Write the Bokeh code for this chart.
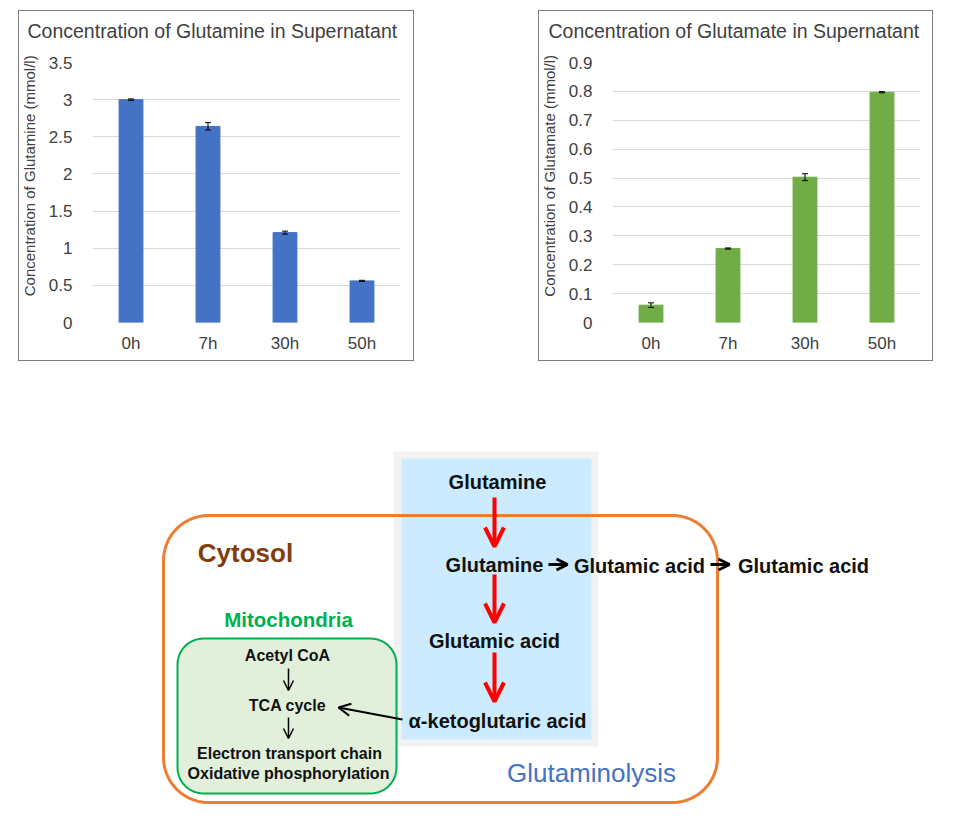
import math
from bokeh.plotting import figure
from bokeh.models import (Range1d, FactorRange, FixedTicker, CustomJSTickFormatter, Whisker, TeeHead,
                          ColumnDataSource, Arrow, OpenHead, Spacer)
from bokeh.layouts import column, row
from bokeh.core.properties import value
from bokeh.embed import file_html
from bokeh.resources import INLINE

# ---------------- data ----------------
categories = ["0h", "7h", "30h", "50h"]
gln_values = [3.00, 2.64, 1.21, 0.56]
gln_errors = [0.01, 0.05, 0.02, 0.008]
glu_values = [0.060, 0.256, 0.503, 0.797]
glu_errors = [0.008, 0.002, 0.012, 0.002]
gln_ticks = [0, 0.5, 1, 1.5, 2, 2.5, 3, 3.5]
glu_ticks = [0, 0.1, 0.2, 0.3, 0.4, 0.5, 0.6, 0.7, 0.8, 0.9]

gln_title = "Concentration of Glutamine in Supernatant"
glu_title = "Concentration of Glutamate in Supernatant"
gln_ylabel = "Concentration of Glutamine (mmol/l)"
glu_ylabel = "Concentration of Glutamate (mmol/l)"

FONT = "Liberation Sans"
TXT = "#404040"
BORDER = "#7F7F7F"
H = 361  # canvas height; the chart box is drawn from y=10 to y=360


def box_styles(bx_left, bx_right):
    """CSS lines drawing the chart's outer box inside the figure's element."""
    g = "linear-gradient(%s,%s)" % (BORDER, BORDER)
    w = bx_right - bx_left + 1
    return {
        "background-image": ", ".join([g] * 4),
        "background-size": "%dpx 1px, %dpx 1px, 1px 351px, 1px 351px" % (w, w),
        "background-position": "%dpx 10px, %dpx 360px, %dpx 10px, %dpx 10px"
                               % (bx_left, bx_left, bx_left, bx_right),
        "background-repeat": "no-repeat",
    }


def bar_chart(title, ylabel, vals, errs, ticks, color, width, right_border, title_dx, bx_left, bx_right):
    p = figure(width=width, height=H, x_range=FactorRange(*categories, range_padding=0),
               y_range=Range1d(0, ticks[-1]), output_backend="svg", toolbar_location=None,
               min_border_left=76, min_border_right=right_border, min_border_top=62,
               min_border_bottom=39, styles=box_styles(bx_left, bx_right))
    p.outline_line_color = None
    p.background_fill_color = None
    p.border_fill_color = None
    p.title.text = title
    p.title.align = "left"
    p.title.offset = title_dx
    p.title.vertical_align = "top"
    p.title.standoff = 37
    p.title.text_font = FONT
    p.title.text_font_size = "19.5px"
    p.title.text_font_style = "normal"
    p.title.text_color = TXT

    lo = [v - e for v, e in zip(vals, errs)]
    hi = [v + e for v, e in zip(vals, errs)]
    src = ColumnDataSource(dict(x=categories, top=vals, lower=lo, upper=hi))
    p.vbar(x="x", top="top", width=0.31, source=src, fill_color=color, line_color=color)
    w = Whisker(base="x", upper="upper", lower="lower", source=src, line_color="black",
                line_width=1, level="annotation",
                upper_head=TeeHead(size=6, line_color="black", line_width=1),
                lower_head=TeeHead(size=6, line_color="black", line_width=1))
    p.add_layout(w)

    p.xgrid.grid_line_color = None
    p.ygrid.grid_line_color = "#D9D9D9"
    p.ygrid.grid_line_width = 1
    p.yaxis.ticker = FixedTicker(ticks=ticks)
    p.yaxis.formatter = CustomJSTickFormatter(code="return String(Math.round(tick*10)/10)")
    for ax in (p.xaxis, p.yaxis):
        ax.axis_line_color = None
        ax.major_tick_line_color = None
        ax.minor_tick_line_color = None
        ax.major_label_text_font = FONT
        ax.major_label_text_font_size = "17px"
        ax.major_label_text_color = TXT
    p.yaxis.major_label_standoff = 14
    p.xaxis.major_label_standoff = 5
    # leading no-break spaces lift the centred axis title a little, as in the original
    p.yaxis.axis_label = "\u00a0" * 8 + ylabel
    p.yaxis.axis_label_text_font = FONT
    p.yaxis.axis_label_text_font_size = "15px"
    p.yaxis.axis_label_text_font_style = "normal"
    p.yaxis.axis_label_text_color = TXT
    p.yaxis.axis_label_standoff = 8
    return p


# p1 canvas: page x 16..414, frame 92..400 ; p2 canvas: 536..933, frame 612..920
p1 = bar_chart(gln_title, gln_ylabel, gln_values, gln_errors, gln_ticks, "#4472C4",
               398, 14, -65, 2, 397)
p2 = bar_chart(glu_title, glu_ylabel, glu_values, glu_errors, glu_ticks, "#70AD47",
               397, 13, -64, 2, 396)

# ---------------- diagram (page-pixel coordinates) ----------------
p3 = figure(width=946, height=462, x_range=Range1d(0, 946), y_range=Range1d(823, 361),
            output_backend="svg", toolbar_location=None, x_axis_location=None,
            y_axis_location=None, min_border=0)
p3.outline_line_color = None
p3.xgrid.grid_line_color = None
p3.ygrid.grid_line_color = None


def rrect(l, t, r, b, rad, n=14):
    xs, ys = [], []
    for cx, cy, a0, a1 in [(r - rad, t + rad, -90, 0), (r - rad, b - rad, 0, 90),
                           (l + rad, b - rad, 90, 180), (l + rad, t + rad, 180, 270)]:
        for k in range(n + 1):
            a = math.radians(a0 + (a1 - a0) * k / n)
            xs.append(cx + rad * math.cos(a))
            ys.append(cy + rad * math.sin(a))
    return xs, ys


# panels
p3.quad(left=[393], right=[598], top=[451], bottom=[746], fill_color="#F2F2F2", line_color=None)
p3.quad(left=[401], right=[591], top=[458], bottom=[739], fill_color="#CCEBFE", line_color=None)
ox, oy = rrect(163, 515, 717, 802, 45)
p3.patch(ox, oy, fill_color=None, fill_alpha=0, line_color="#ED7D31", line_width=3)
gx, gy = rrect(177, 638, 396, 793, 26)
p3.patch(gx, gy, fill_color="#E2EFDA", line_color="#00B050", line_width=2)

# texts
main_labels = ["Glutamine", "Glutamine", "Glutamic acid", "Glutamic acid", "Glutamic acid",
               "α-ketoglutaric acid"]
main_x = [497, 494, 639, 803, 494, 497]
main_y = [481, 564, 565, 565, 640, 720]
p3.text(x=main_x, y=main_y, text=main_labels, text_font=value(FONT), text_font_style="bold",
        text_font_size="20px", text_align="center", text_baseline="middle", text_color="#111111")

mito_labels = ["Acetyl CoA", "TCA cycle", "Electron transport chain", "Oxidative phosphorylation"]
mito_x = [287, 287, 289, 288]
mito_y = [655, 705, 753, 773]
p3.text(x=mito_x, y=mito_y, text=mito_labels, text_font=value(FONT), text_font_style="bold",
        text_font_size="16px", text_align="center", text_baseline="middle", text_color="#111111")

p3.text(x=[245], y=[552], text=["Cytosol"], text_font=value(FONT), text_font_style="bold",
        text_font_size="26px", text_align="center", text_baseline="middle", text_color="#843C0C")
p3.text(x=[288], y=[619], text=["Mitochondria"], text_font=value(FONT), text_font_style="bold",
        text_font_size="20.5px", text_align="center", text_baseline="middle", text_color="#00B050")
p3.text(x=[591], y=[772], text=["Glutaminolysis"], text_font=value(FONT), text_font_style="normal",
        text_font_size="26px", text_align="center", text_baseline="middle", text_color="#4472C4")

# arrows
for (x0, y0, x1, y1) in [(494, 497, 494, 546), (494, 574, 494, 622), (494, 652, 494, 701)]:
    p3.add_layout(Arrow(x_start=x0, y_start=y0, x_end=x1, y_end=y1, line_color="#FF0000",
                        line_width=4, end=OpenHead(size=19, line_color="#FF0000", line_width=4)))
for (x0, y0, x1, y1) in [(548, 564, 567, 564), (710, 564, 729, 564)]:
    p3.add_layout(Arrow(x_start=x0, y_start=y0, x_end=x1, y_end=y1, line_color="black",
                        line_width=3, end=OpenHead(size=11, line_color="black", line_width=3)))
for (x0, y0, x1, y1) in [(288, 668, 288, 690), (288, 717, 288, 738)]:
    p3.add_layout(Arrow(x_start=x0, y_start=y0, x_end=x1, y_end=y1, line_color="black",
                        line_width=1.5, end=OpenHead(size=10, line_color="black", line_width=1.5)))
p3.add_layout(Arrow(x_start=402, y_start=719, x_end=338, y_end=707, line_color="black",
                    line_width=2, end=OpenHead(size=12, line_color="black", line_width=2)))

layout = column(row(Spacer(width=16), p1, Spacer(width=122), p2), p3)

open("out.html", "w").write(file_html(layout, INLINE))
